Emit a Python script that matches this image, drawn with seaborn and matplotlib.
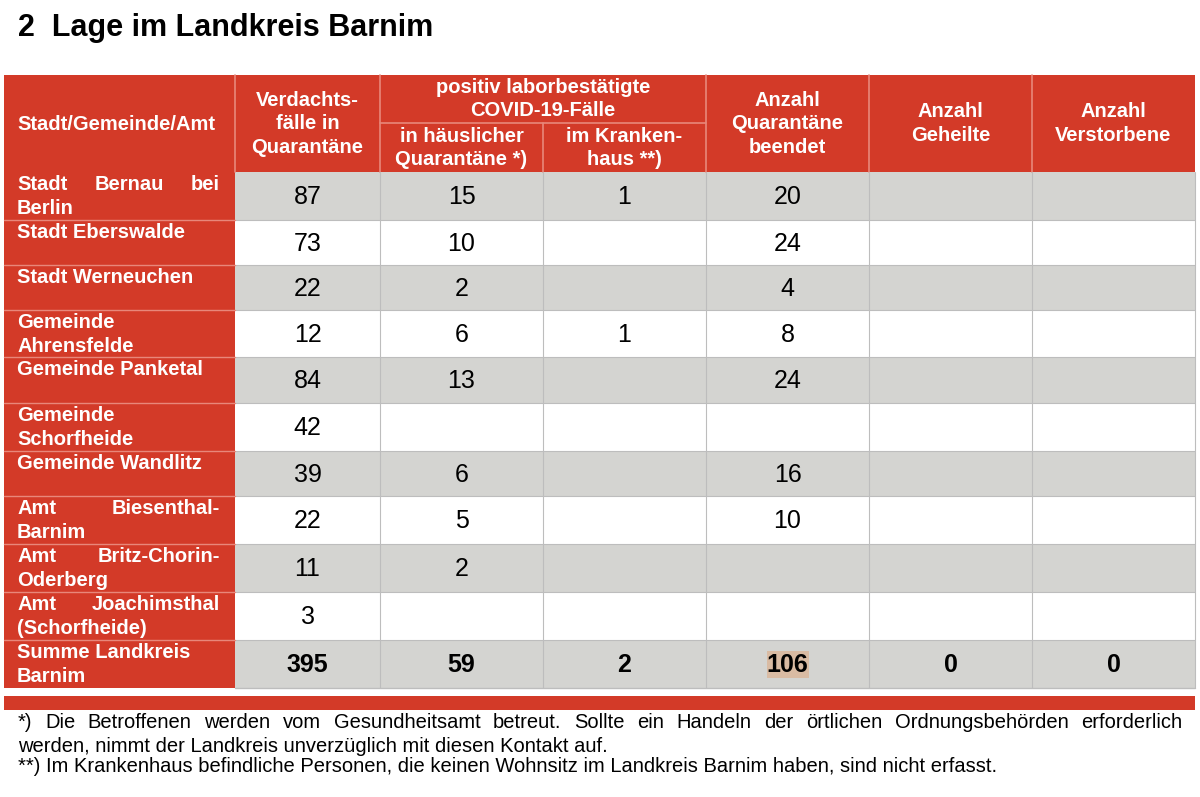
import numpy as np
import pandas as pd
import seaborn as sns
import matplotlib.pyplot as plt
from matplotlib.patches import Rectangle

# table content
names = ["Stadt Bernau bei\nBerlin", "Stadt Eberswalde", "Stadt Werneuchen",
         "Gemeinde\nAhrensfelde", "Gemeinde Panketal", "Gemeinde\nSchorfheide",
         "Gemeinde Wandlitz", "Amt Biesenthal-\nBarnim", "Amt Britz-Chorin-\nOderberg",
         "Amt Joachimsthal\n(Schorfheide)"]
justified = [True, False, False, False, False, False, False, True, True, True]
verdacht = [87, 73, 22, 12, 84, 42, 39, 22, 11, 3]
haeuslich = [15, 10, 2, 6, 13, None, 6, 5, 2, None]
krankenhaus = [1, None, None, 1, None, None, None, None, None, None]
beendet = [20, 24, 4, 8, 24, None, 16, 10, None, None]
geheilt = [None] * 10
verstorben = [None] * 10
sum_label = "Summe Landkreis\nBarnim"
totals = [395, 59, 2, 106, 0, 0]

headers = ["Verdachts-\nfälle in\nQuarantäne", "in häuslicher\nQuarantäne *)",
           "im Kranken-\nhaus **)", "Anzahl\nQuarantäne\nbeendet",
           "Anzahl\nGeheilte", "Anzahl\nVerstorbene"]
group_header = "positiv laborbestätigte\nCOVID-19-Fälle"
first_header = "Stadt/Gemeinde/Amt"
title = "2  Lage im Landkreis Barnim"
note1 = ("*) Die Betroffenen werden vom Gesundheitsamt betreut. Sollte ein Handeln "
         "der örtlichen Ordnungsbehörden erforderlich")
note2 = "werden, nimmt der Landkreis unverzüglich mit diesen Kontakt auf."
note3 = ("**) Im Krankenhaus befindliche Personen, die keinen Wohnsitz im Landkreis "
         "Barnim haben, sind nicht erfasst.")

df = pd.DataFrame({"name": names, "v": verdacht, "h": haeuslich, "k": krankenhaus,
                   "b": beendet, "g": geheilt, "t": verstorben})

sns.set_theme(style="white")
plt.rcParams['font.family'] = ['Liberation Sans', 'DejaVu Sans']

RED = "#D33A28"
GRAY = "#D4D4D1"
LINE_RED = "#E8877A"
LINE_GRAY = "#BDBDBD"

xs = [4, 235, 380, 543, 706, 869, 1032, 1195]
ys = [172, 220, 265, 310, 357, 403, 451, 496, 544, 592, 640, 688]
top, mid = 75, 123

fig = plt.figure(figsize=(12, 7.97), dpi=100)
ax = fig.add_axes([0, 0, 1, 1])
ax.set_xlim(0, 1200)
ax.set_ylim(797, 0)
ax.axis("off")
renderer = fig.canvas.get_renderer()


def justify(words, x0, x1, y, **kw):
    texts = [ax.text(0, y, w, ha="left", va="center", **kw) for w in words]
    widths = [t.get_window_extent(renderer).width for t in texts]
    gap = (x1 - x0 - sum(widths)) / max(len(words) - 1, 1)
    x = x0
    for t, w in zip(texts, widths):
        t.set_x(x)
        x += w + gap


def lines(text, x, yc, step, **kw):
    parts = text.split("\n")
    y0 = yc - step * (len(parts) - 1) / 2
    for i, p in enumerate(parts):
        ax.text(x, y0 + i * step, p, ha="center", va="center", **kw)


ax.text(18, 28, title, fontsize=22, fontweight="bold", color="black", va="center")

# header block
ax.add_patch(Rectangle((xs[0], top), xs[-1] - xs[0], ys[0] - top, color=RED, lw=0))
for x in xs[1:-1]:
    y_start = mid if x == xs[3] else top
    ax.plot([x, x], [y_start, ys[0]], color=LINE_RED, lw=1.2)
ax.plot([xs[2], xs[4]], [mid, mid], color=LINE_RED, lw=1.2)
hkw = dict(color="white", fontweight="bold", fontsize=14.5)
ax.text(17, 124, first_header, ha="left", va="center", **hkw)
lines(group_header, (xs[2] + xs[4]) / 2, 99, 23, **hkw)
for i, h in enumerate(headers):
    cx = (xs[i + 1] + xs[i + 2]) / 2
    if i in (1, 2):
        lines(h, cx, 147.5, 23, **hkw)
    else:
        lines(h, cx, 123.5, 23.5, **hkw)

# body rows
cols = ["v", "h", "k", "b", "g", "t"]
nkw = dict(color="black", fontsize=18)
for r in range(len(df) + 1):
    y0, y1 = ys[r], ys[r + 1]
    fill = GRAY if r % 2 == 0 else "white"
    ax.add_patch(Rectangle((xs[1], y0), xs[-1] - xs[1], y1 - y0, color=fill, lw=0))
    ax.add_patch(Rectangle((xs[0], y0), xs[1] - xs[0], y1 - y0, color=RED, lw=0))
    if r < len(df):
        label, just = df["name"][r], justified[r]
        values = [df[c][r] for c in cols]
        weight = "normal"
    else:
        label, just = sum_label, False
        values = totals
        weight = "bold"
    lkw = dict(color="white", fontweight="bold", fontsize=14.5)
    for i, part in enumerate(label.split("\n")):
        yy = y0 + 12.5 + i * 23.5
        if just and i == 0:
            justify(part.split(" "), 17, 220, yy, **lkw)
        else:
            ax.text(17, yy, part, ha="left", va="center", **lkw)
    for c, v in enumerate(values):
        if v is None or pd.isna(v):
            continue
        cx = (xs[c + 1] + xs[c + 2]) / 2
        if r == len(df) and c == 3:
            ax.add_patch(Rectangle((cx - 21, y0 + 11), 42, 27, color="#D9BBA3", lw=0))
        ax.text(cx, (y0 + y1) / 2 + 1, str(int(v)), ha="center", va="center",
                fontweight=weight, **nkw)

# grid lines
for y in ys[1:-1]:
    ax.plot([xs[1], xs[-1]], [y, y], color=LINE_GRAY, lw=0.8)
    ax.plot([xs[0], xs[1]], [y, y], color=LINE_RED, lw=1.0)
for x in xs[2:-1]:
    ax.plot([x, x], [ys[0], ys[-1]], color=LINE_GRAY, lw=0.8)
ax.plot([xs[-1], xs[-1]], [ys[0], ys[-1]], color=LINE_GRAY, lw=0.8)
ax.plot([xs[1], xs[-1]], [ys[-1], ys[-1]], color=LINE_GRAY, lw=1.0)

# red bar and footnotes
ax.add_patch(Rectangle((xs[0], 696), xs[-1] - xs[0], 14, color=RED, lw=0))
fkw = dict(color="black", fontsize=14.5)
justify(note1.split(" "), 18, 1182, 723, **fkw)
ax.text(18, 746, note2, ha="left", va="center", **fkw)
ax.text(18, 767, note3, ha="left", va="center", **fkw)

fig.savefig("out.png", dpi=100, facecolor="white")
